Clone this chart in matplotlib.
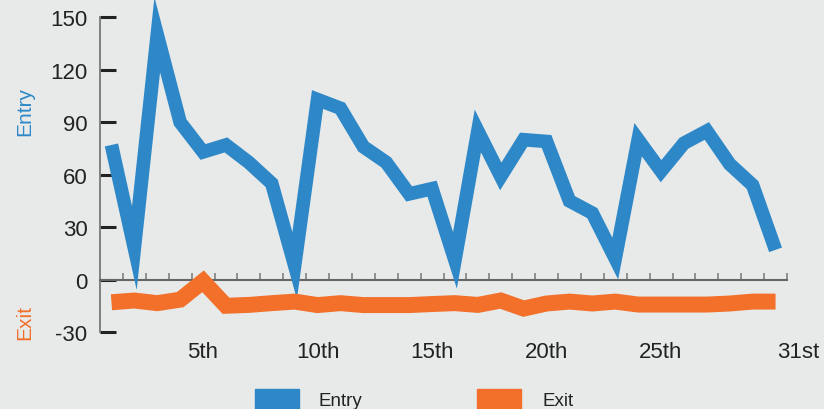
import numpy as np
import matplotlib.pyplot as plt
from matplotlib.patches import Rectangle

plt.rcParams['font.family'] = ['Liberation Sans', 'DejaVu Sans']
plt.rcParams['axes.unicode_minus'] = False

days = list(range(1, 31))
entry = [77, 18, 140, 90, 73, 77, 67, 55, 8, 103, 98, 76, 67, 49, 52, 11,
         85, 59, 80, 79, 45, 38, 12, 80, 62, 78, 85, 66, 54, 17]
exit_ = [-13, -12, -13.5, -11.5, -1, -15, -14.5, -13.5, -12.6, -14.6, -13.5, -14.6,
         -14.6, -14.6, -14, -13.5, -14.5, -12, -16.6, -13.7, -12.6, -13.7, -12.6,
         -14.3, -14.3, -14.3, -14.3, -13.7, -12.6, -12.6]
label_days = [5, 10, 15, 20, 25, 31]
label_text = ['5th', '10th', '15th', '20th', '25th', '31st']
yticks = [-30, 0, 30, 60, 90, 120, 150]

BLUE = '#2e88c8'
ORANGE = '#f2702a'
BG = '#e8eaea'

W, H = 824, 410
fig = plt.figure(figsize=(W / 100, H / 100), dpi=100, facecolor=BG)
ax = fig.add_axes([100 / W, (H - 333) / H, 687 / W, 333 / H], facecolor=BG)

ax.plot(days, entry, color=BLUE, lw=9.8, solid_joinstyle='miter',
        solid_capstyle='butt', clip_on=False, zorder=3)
ax.plot(days, exit_, color=ORANGE, lw=11.5, solid_joinstyle='miter',
        solid_capstyle='butt', clip_on=False, zorder=3)

ax.set_xlim(0.5, 30.5)
ax.set_ylim(-30, 160.5)

for s in ['top', 'right']:
    ax.spines[s].set_visible(False)
ax.spines['left'].set_bounds(-30, 150)
ax.spines['left'].set_color('#777777')
ax.spines['left'].set_linewidth(1.3)
ax.spines['bottom'].set_position(('data', 0))
ax.spines['bottom'].set_color('#666666')
ax.spines['bottom'].set_linewidth(1.5)

ax.set_yticks(yticks)
ax.tick_params(axis='y', direction='in', length=11.5, width=2.2, color='#222222',
               labelsize=16, labelcolor='#222222', pad=9)

ax.set_xticks([])
ax.set_xticks(np.arange(1.5, 31, 1), minor=True)
ax.tick_params(axis='x', which='minor', direction='in', length=5, width=1.1,
               color='#777777')

for d, t in zip(label_days, label_text):
    ax.text(d, -(352 - 280) / 1.745, t, ha='center', va='center', fontsize=16,
            color='#222222', clip_on=False)

fig.text(25 / W, 1 - 112 / H, 'Entry', rotation=90, ha='center', va='center',
         fontsize=15, color=BLUE)
fig.text(25 / W, 1 - 322 / H, 'Exit', rotation=90, ha='center', va='center',
         fontsize=15, color=ORANGE)

# legend at the bottom, partly cut by the figure edge
for x0, col, name, tx in [(255, BLUE, 'Entry', 318), (477, ORANGE, 'Exit', 543)]:
    fig.add_artist(Rectangle((x0 / W, -0.05), 44 / W, (H - 390) / H + 0.05,
                             transform=fig.transFigure, color=col))
    fig.text(tx / W, 1 - 406 / H, name, ha='left', va='baseline',
             fontsize=13.5, color='#222222')

fig.savefig('out.png', dpi=100, facecolor=BG)
